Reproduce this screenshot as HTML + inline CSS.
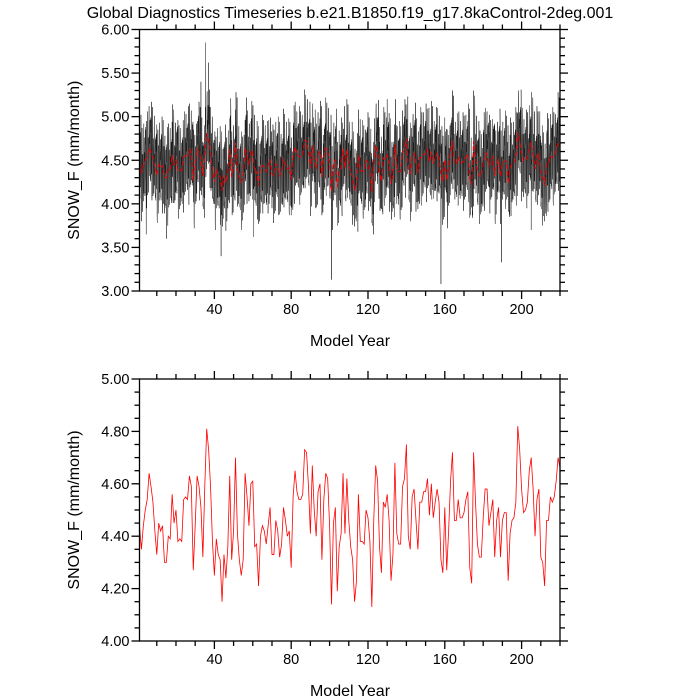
<!DOCTYPE html>
<html><head><meta charset="utf-8"><style>
html,body{margin:0;padding:0;background:#fff;}
svg{display:block;font-family:"Liberation Sans",sans-serif;}
</style></head><body>
<svg id="chart" width="700" height="700" viewBox="0 0 700 700" xmlns="http://www.w3.org/2000/svg">
<text x="350" y="18" text-anchor="middle" font-size="16">Global Diagnostics Timeseries b.e21.B1850.f19_g17.8kaControl-2deg.001</text>
<g id="top"></g>
<g id="bot"></g>
</svg>
<script>
// annual mean SNOW_F (mm/month), years 1..220
const annualValues = [4.44,4.35,4.44,4.50,4.54,4.64,4.59,4.53,4.42,4.33,4.45,4.42,4.44,4.30,4.30,4.40,4.39,4.56,4.45,4.50,4.38,
4.39,4.38,4.54,4.55,4.54,4.63,4.59,4.27,4.44,4.63,4.59,4.51,4.32,4.59,4.81,4.73,4.59,4.38,4.25,4.39,
4.33,4.31,4.15,4.33,4.24,4.36,4.63,4.31,4.42,4.70,4.41,4.31,4.25,4.31,4.64,
4.55,4.44,4.60,4.61,4.36,4.37,4.21,4.40,4.44,4.42,4.37,4.44,4.51,4.33,4.33,4.46,4.42,4.32,4.37,4.51,4.46,4.40,4.42,4.28,4.55,4.65,4.57,4.54,4.54,4.56,4.73,4.72,4.59,4.41,4.67,4.50,4.40,4.57,4.60,4.31,4.54,4.64,4.62,4.44,4.14,4.45,4.51,4.19,4.36,4.41,4.64,4.41,4.62,4.46,
4.36,4.31,4.15,4.23,4.56,4.38,4.38,4.37,4.50,4.47,4.38,4.13,4.46,4.67,4.61,4.36,4.26,4.53,4.51,4.56,4.46,4.23,4.33,4.68,4.41,4.37,4.37,4.59,4.62,4.75,4.40,4.35,4.55,4.58,4.46,4.35,4.53,4.53,4.57,4.57,4.62,4.48,4.60,4.47,4.53,4.58,4.53,4.31,4.26,4.51,4.27,4.42,4.61,4.72,4.46,
4.46,4.54,4.47,4.47,4.49,4.54,4.57,4.28,4.22,4.72,4.53,4.37,4.32,4.32,4.47,4.58,4.58,4.44,4.49,4.54,4.32,4.46,4.51,4.32,4.46,4.49,4.49,4.23,4.41,4.46,4.47,4.53,4.82,4.73,4.58,4.49,4.50,4.53,4.65,4.70,4.58,4.40,4.54,4.58,4.32,4.30,4.21,4.46,4.46,4.55,4.53,4.55,4.61,4.70,4.66];
// typical within-year monthly departures (hand estimated spread of black trace)
const monthlyDeviations = [0.32,-0.28,0.18,-0.41,0.45,-0.12,0.26,-0.35,0.08,0.38,-0.22,-0.48,0.15,0.52,-0.30,0.22,-0.18,0.41,-0.55,0.05,0.30,-0.38,0.12,-0.25,0.48,-0.10,0.20,-0.44,0.35,-0.05,0.58,-0.32,0.10];
// notable monthly extremes
const spikeYears = [35.5, 37.0, 43.5, 101.0, 158.0, 189.5, 33.0, 130.0, 4.5, 15.0, 60.5, 205.0];
const spikeValues = [5.85, 5.62, 3.40, 3.13, 3.08, 3.33, 5.40, 5.20, 3.65, 3.60, 3.62, 3.70];
const yTicksTop = ["3.00","3.50","4.00","4.50","5.00","5.50","6.00"];
const yTicksBot = ["4.00","4.20","4.40","4.60","4.80","5.00"];
const xTicks = ["40","80","120","160","200"];

const NS="http://www.w3.org/2000/svg";
const X0=139.5,X1=560,XMIN=1,XMAX=220;
const xs=v=>X0+(v-XMIN)/(XMAX-XMIN)*(X1-X0);
function mk(tag,attrs,parent){const e=document.createElementNS(NS,tag);for(const k in attrs)e.setAttribute(k,attrs[k]);parent.appendChild(e);return e;}

function panel(g,top,bot,ymin,ymax,yTicks,minorStep){
  const ys=v=>bot-(v-ymin)/(ymax-ymin)*(bot-top);
  const plot=mk('g',{},g);
  
  
  const axes=mk('g',{stroke:'#000','stroke-width':1.3,fill:'none'},g);
  
  
  mk('rect',{x:X0,y:top,width:X1-X0,height:bot-top},axes);
  for(let v=ymin;v<=ymax+1e-9;v+=minorStep){
    const y=ys(v);const major=yTicks.some(t=>Math.abs(parseFloat(t)-v)<1e-6);
    const L=major?8:5;
    mk('line',{x1:X0-L,x2:X0,y1:y,y2:y},axes);
    mk('line',{x1:X1,x2:X1+L,y1:y,y2:y},axes);
  }
  yTicks.forEach(t=>{const tx=mk('text',{x:X0-10,y:ys(parseFloat(t))+5,'text-anchor':'end','font-size':14.5,fill:'#000',stroke:'none'},g);tx.textContent=t;
    
    });
  for(let v=10;v<=XMAX;v+=10){
    const x=xs(v);const major=v%40===0;const L=major?8:5;
    mk('line',{x1:x,x2:x,y1:bot,y2:bot+L},axes);
    mk('line',{x1:x,x2:x,y1:top-L,y2:top},axes);
  }
  xTicks.forEach(t=>{const tx=mk('text',{x:xs(parseFloat(t)),y:bot+23,'text-anchor':'middle','font-size':14.5},g);tx.textContent=t;
    
    });
  const xl=mk('text',{x:350,y:bot+55,'text-anchor':'middle','font-size':16},g);xl.textContent='Model Year';
  
  
  const cy=(top+bot)/2;
  const yl=mk('text',{x:79,y:cy,'text-anchor':'middle','font-size':16,transform:`rotate(-90 79 ${cy})`},g);yl.textContent='SNOW_F (mm/month)';
  
  
  return {ys,plot};
}

const T=panel(document.getElementById('top'),29.5,291,3,6,yTicksTop,0.1);
let pts=[];
const nM=annualValues.length*12;
for(let i=0;i<nM;i++){
  const yr=1+i/12;
  const a=annualValues[Math.floor(i/12)];
  let v=a+monthlyDeviations[(i*7)%monthlyDeviations.length];
  spikeYears.forEach((s,k)=>{if(Math.abs(s-yr)<1/24)v=spikeValues[k];});
  v=Math.max(3,Math.min(6,v));
  pts.push(xs(Math.min(yr,XMAX)).toFixed(2)+','+T.ys(v).toFixed(2));
}
const ml=mk('polyline',{points:pts.join(' '),fill:'none',stroke:'#111','stroke-width':0.45},T.plot);


const ap=annualValues.map((v,i)=>xs(i+1).toFixed(2)+','+T.ys(v).toFixed(2)).join(' ');
const al=mk('polyline',{points:ap,fill:'none',stroke:'#e00','stroke-width':1,'stroke-dasharray':'5,2'},T.plot);



const B=panel(document.getElementById('bot'),379,641,4,5,yTicksBot,0.05);
const bp=annualValues.map((v,i)=>xs(i+1).toFixed(2)+','+B.ys(v).toFixed(2)).join(' ');
const bl=mk('polyline',{points:bp,fill:'none',stroke:'#f00','stroke-width':0.8},B.plot);


</script>
</body></html>
